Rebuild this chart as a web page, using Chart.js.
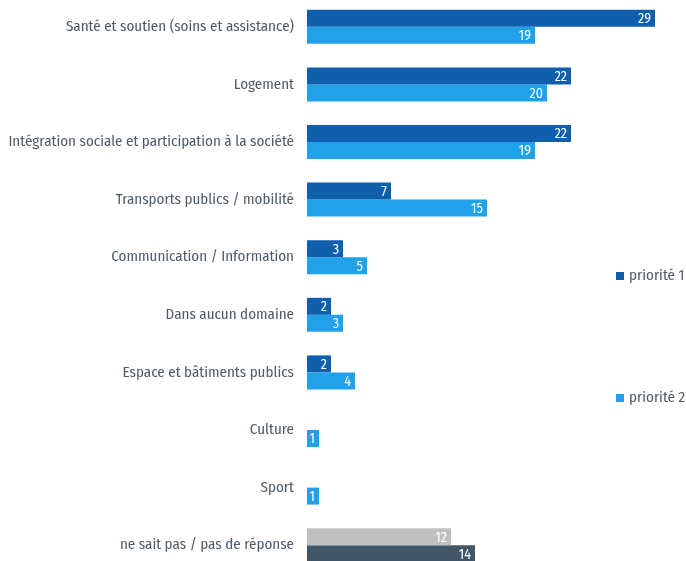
<!DOCTYPE html>
<html><head><meta charset="utf-8">
<script src="https://cdn.jsdelivr.net/npm/chart.js@4/dist/chart.umd.min.js"></script>
<style>
html,body{margin:0;padding:0;background:#fff;overflow:hidden;width:686px;height:561px;}
#wrap{position:absolute;left:0;top:-2px;width:686px;height:576px;}
</style></head><body>
<div id="wrap"><canvas id="c" width="686" height="576"></canvas></div>
<script>
const categories = ["Santé et soutien (soins et assistance)","Logement","Intégration sociale et participation à la société","Transports publics / mobilité","Communication / Information","Dans aucun domaine","Espace et bâtiments publics","Culture","Sport","ne sait pas / pas de réponse"];
const priorite1 = [29,22,22,7,3,2,2,0,0,12];
const priorite2 = [19,20,19,15,5,3,4,1,1,14];
const seriesNames = ["priorité 1","priorité 2"];
const FONT = '"Fira Sans Condensed",sans-serif';
const C1 = '#0f5fad', C2 = '#21a1ea', CG = '#c0c0c0', CD = '#435665', TXT = '#4f5b67';
const n = categories.length;
const col1 = categories.map((c,i)=> i===n-1 ? CG : C1);
const col2 = categories.map((c,i)=> i===n-1 ? CD : C2);

const labelsPlugin = {
  id:'vals',
  afterDatasetsDraw(chart){
    const ctx = chart.ctx;
    ctx.save();
    ctx.font = '14px ' + FONT;
    ctx.fillStyle = '#fff';
    ctx.textAlign = 'right';
    ctx.textBaseline = 'middle';
    chart.data.datasets.forEach((ds,di)=>{
      chart.getDatasetMeta(di).data.forEach((bar,i)=>{
        const v = ds.data[i];
        if(!v) return;
        ctx.fillText(String(v), bar.x - 4, bar.y + 1);
      });
    });
    const items = [[seriesNames[0],C1,276],[seriesNames[1],C2,398]];
    ctx.textAlign='left';
    ctx.font = '15px ' + FONT;
    items.forEach(([t,c,y])=>{
      ctx.fillStyle=c; ctx.fillRect(616,y+2-4,8,8);
      ctx.fillStyle=TXT; ctx.fillText(t,629,y+2);
    });
    ctx.restore();
  }
};

new Chart(document.getElementById('c'),{
  type:'bar',
  data:{labels:categories,datasets:[
    {label:seriesNames[0],data:priorite1,backgroundColor:col1,borderWidth:0},
    {label:seriesNames[1],data:priorite2,backgroundColor:col2,borderWidth:0}
  ]},
  options:{
    indexAxis:'y',responsive:false,animation:false,
    categoryPercentage:0.59,barPercentage:1,
    layout:{padding:{left:0,right:19,top:0,bottom:0}},
    plugins:{legend:{display:false},tooltip:{enabled:false}},
    scales:{
      x:{display:false,min:0,max:30},
      y:{
        grid:{display:false,drawTicks:false},border:{display:false},
        ticks:{color:TXT,font:{family:FONT,size:15},padding:13},
        afterFit(s){s.width=307;s.paddingTop=0;s.paddingBottom=0;}
      }
    }
  },
  plugins:[labelsPlugin]
});
</script></body></html>
